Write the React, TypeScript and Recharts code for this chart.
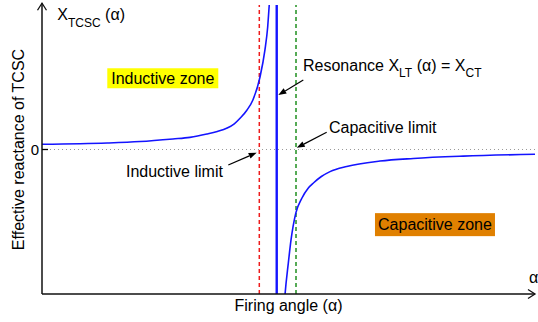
import { LineChart, Line, XAxis, YAxis, ReferenceLine, ReferenceDot } from 'recharts'

// firing angle (deg) and effective reactance
const inductiveAlpha = [90, 101.9, 107.9, 113.9, 117.0, 120.1, 122.0, 123.8, 125.1, 126.2, 127.4, 128.5, 129.8, 130.7, 131.2, 131.5, 131.7]
const inductiveX = [0.36, 0.45, 0.55, 0.73, 0.84, 1.07, 1.25, 1.49, 1.78, 2.18, 2.72, 3.43, 5.02, 6.89, 8.48, 10.07, 11]

const capacitiveAlpha = [134.1, 134.36, 134.96, 135.46, 136.32, 137.41, 138.62, 139.6, 141.0, 142.58, 145.63, 151.7, 157.79, 166.91, 180]
const capacitiveX = [-11.5, -10.07, -7.88, -6.26, -4.42, -3.39, -2.66, -2.3, -1.87, -1.53, -1.17, -0.8, -0.62, -0.46, -0.33]

const inductiveLimit = 129.67
const resonanceAngle = 132.85
const capacitiveLimit = 136.37

const alphaDomain = [90, 180]
const reactanceDomain = [-10, 10]

const inductiveData = inductiveAlpha.map((a, i) => ({ a, x: inductiveX[i] }))
const capacitiveData = capacitiveAlpha.map((a, i) => ({ a, x: capacitiveX[i] }))

const FONT = '"Liberation Sans", Arial, sans-serif'
const BLUE = '#1414ff'

const arrowShape = (props: any) => {
    const { x1, y1, x2, y2 } = props
    const ang = Math.atan2(y2 - y1, x2 - x1)
    const len = 8
    const w = 3
    const bx = x2 - len * Math.cos(ang)
    const by = y2 - len * Math.sin(ang)
    const px = -Math.sin(ang) * w
    const py = Math.cos(ang) * w
    return (
        <g>
            <line x1={x1} y1={y1} x2={bx} y2={by} stroke="#000" strokeWidth={1.2} />
            <polygon points={`${x2},${y2} ${bx + px},${by + py} ${bx - px},${by - py}`} fill="#000" />
        </g>
    )
}

const axisArrowShape = (props: any) => {
    const { x1, y1, x2, y2 } = props
    const ang = Math.atan2(y2 - y1, x2 - x1)
    const len = 7
    const w = 4.5
    const bx = x2 - len * Math.cos(ang)
    const by = y2 - len * Math.sin(ang)
    const px = -Math.sin(ang) * w
    const py = Math.cos(ang) * w
    return (
        <g>
            <line x1={x1} y1={y1} x2={x2} y2={y2} stroke="#111" strokeWidth={1.5} />
            <polyline points={`${bx + px},${by + py} ${x2},${y2} ${bx - px},${by - py}`} fill="none" stroke="#111" strokeWidth={1.3} />
        </g>
    )
}

const boxLabel = (text: string, bg: string, w: number, h: number) => (props: any) => {
    const { cx, cy } = props
    return (
        <g>
            <rect x={cx - w / 2} y={cy - h / 2} width={w} height={h} fill={bg} />
            <text x={cx} y={cy} textAnchor="middle" dominantBaseline="central" fontSize={16} fontFamily={FONT} fill="#000">{text}</text>
        </g>
    )
}

const plainLabel = (text: string) => (props: any) => (
    <text x={props.cx} y={props.cy} fontSize={16} fontFamily={FONT} fill="#000">{text}</text>
)

const resonanceLabel = (props: any) => (
    <text x={props.cx} y={props.cy} fontSize={16} fontFamily={FONT} fill="#000" style={{ whiteSpace: 'pre' }}>
        <tspan>Resonance X</tspan>
        <tspan fontSize={12} dy={6}>LT</tspan>
        <tspan dy={-6}> (α) = X</tspan>
        <tspan fontSize={12} dy={6}>CT</tspan>
    </text>
)

const xtcscLabel = (props: any) => (
    <text x={props.cx} y={props.cy} fontSize={16} fontFamily={FONT} fill="#000" style={{ whiteSpace: 'pre' }}>
        <tspan>X</tspan>
        <tspan fontSize={12} dy={7}>TCSC</tspan>
        <tspan dy={-7}> (α)</tspan>
    </text>
)

const yTitle = (props: any) => (
    <text x={props.cx - 18} y={props.cy} transform={`rotate(-90 ${props.cx - 18} ${props.cy})`} textAnchor="middle" fontSize={16} fontFamily={FONT} fill="#000">
        Effective reactance of TCSC
    </text>
)

const zeroTick = (props: any) => {
    const { x, y, payload } = props
    return (
        <g>
            <line x1={x} y1={y} x2={x + 6} y2={y} stroke="#000" strokeWidth={1.3} />
            <text x={x - 3} y={y} textAnchor="end" dominantBaseline="central" fontSize={15} fontFamily={FONT} fill="#000">{payload.value}</text>
        </g>
    )
}

export default function App() {
    return (
        <div style={{ position: 'absolute', left: 0, top: 0, fontFamily: FONT }}>
            <LineChart width={538} height={322} margin={{ top: 5, right: 3, left: 0, bottom: 0 }}>
                <XAxis
                    type="number"
                    dataKey="a"
                    domain={alphaDomain}
                    allowDataOverflow
                    ticks={[]}
                    tick={false}
                    axisLine={false}
                    tickLine={false}
                    height={28}
                    label={{ value: 'Firing angle (α)', position: 'insideBottom', offset: 11, fill: '#000', fontSize: 16, fontFamily: FONT }}
                />
                <YAxis
                    type="number"
                    domain={reactanceDomain}
                    allowDataOverflow
                    ticks={[0]}
                    width={42}
                    axisLine={false}
                    tickLine={false}
                    tickSize={0}
                    tickMargin={0}
                    tick={zeroTick}
                />
                <ReferenceLine y={0} stroke="#999" strokeDasharray="1 3" strokeWidth={1} />
                <ReferenceLine x={inductiveLimit} stroke="#ee1c1c" strokeDasharray="4 3" strokeWidth={1.5} />
                <ReferenceLine x={capacitiveLimit} stroke="#1f8f1f" strokeDasharray="4 3" strokeWidth={1.5} />
                <ReferenceLine x={resonanceAngle} stroke={BLUE} strokeWidth={2.4} />

                <Line data={inductiveData} dataKey="x" type="monotone" stroke={BLUE} strokeWidth={1.6} dot={false} isAnimationActive={false} />
                <Line data={capacitiveData} dataKey="x" type="monotone" stroke={BLUE} strokeWidth={1.6} dot={false} isAnimationActive={false} />

                {/* axes with arrow heads */}
                <ReferenceLine segment={[{ x: 90, y: -10 }, { x: 90, y: 10.12 }]} ifOverflow="visible" shape={axisArrowShape} />
                <ReferenceLine segment={[{ x: 90, y: -10 }, { x: 180, y: -10 }]} ifOverflow="visible" shape={axisArrowShape} />

                {/* annotation arrows */}
                <ReferenceLine segment={[{ x: 137.7, y: 4.81 }, { x: 133.14, y: 3.77 }]} ifOverflow="visible" shape={arrowShape} />
                <ReferenceLine segment={[{ x: 141.97, y: 1.19 }, { x: 136.5, y: 0.12 }]} ifOverflow="visible" shape={arrowShape} />
                <ReferenceLine segment={[{ x: 124.01, y: -1.07 }, { x: 129.19, y: -0.22 }]} ifOverflow="visible" shape={arrowShape} />

                {/* text */}
                <ReferenceDot x={112.05} y={4.93} r={0} ifOverflow="visible" shape={boxLabel('Inductive zone', '#ffff00', 111, 20)} />
                <ReferenceDot x={161.74} y={-5.2} r={0} ifOverflow="visible" shape={boxLabel('Capacitive zone', '#e08000', 120, 23)} />
                <ReferenceDot x={137.65} y={5.45} r={0} ifOverflow="visible" shape={resonanceLabel} />
                <ReferenceDot x={142.39} y={1.14} r={0} ifOverflow="visible" shape={plainLabel('Capacitive limit')} />
                <ReferenceDot x={105.33} y={-1.92} r={0} ifOverflow="visible" shape={plainLabel('Inductive limit')} />
                <ReferenceDot x={92.79} y={8.96} r={0} ifOverflow="visible" shape={xtcscLabel} />
                <ReferenceDot x={178.9} y={-9.24} r={0} ifOverflow="visible" shape={plainLabel('α')} />
                <ReferenceDot x={90} y={0} r={0} ifOverflow="visible" shape={yTitle} />
            </LineChart>
        </div>
    )
}
